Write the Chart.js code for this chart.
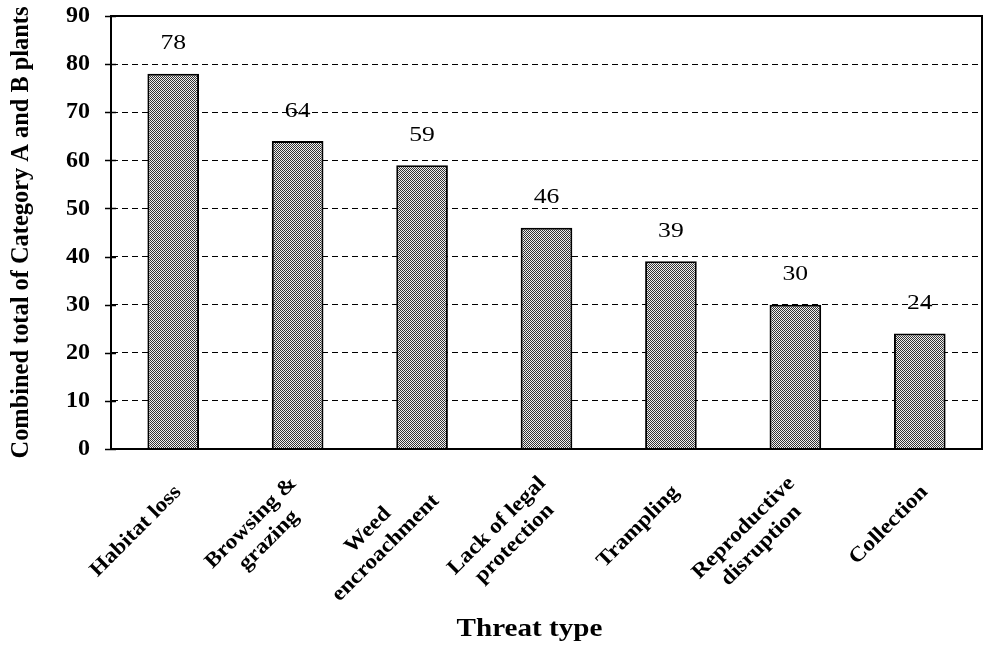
<!DOCTYPE html>
<html>
<head>
<meta charset="utf-8">
<script src="https://cdn.jsdelivr.net/npm/chart.js@4/dist/chart.umd.min.js"></script>
<style>
  html, body { margin: 0; padding: 0; background: #fff; }
  #wrap { width: 986px; height: 647px; }
</style>
</head>
<body>
<div id="wrap"><canvas id="c" width="986" height="647"></canvas></div>
<script>
// Threat categories (multi-line labels) and plant counts
const categories = [
  ["Habitat loss"],
  ["Browsing &", "grazing"],
  ["Weed", "encroachment"],
  ["Lack of legal", "protection"],
  ["Trampling"],
  ["Reproductive", "disruption"],
  ["Collection"]
];
const plantCounts = [78, 64, 59, 46, 39, 30, 24];
const yMin = 0;
const yMax = 90;
const yStep = 10;
const xTitle = "Threat type";
const yTitle = "Combined total of Category A and B plants";

const SERIF = "'Liberation Serif', 'Times New Roman', serif";

// stippled grey fill for the bars
function stipple() {
  const p = document.createElement('canvas');
  p.width = 2; p.height = 2;
  const g = p.getContext('2d');
  g.fillStyle = '#f0f0f0';
  g.fillRect(0, 0, 2, 2);
  g.fillStyle = '#333';
  g.fillRect(0, 0, 1, 1);
  g.fillRect(1, 1, 1, 1);
  return g.createPattern(p, 'repeat');
}

// draw text stretched horizontally around its anchor
function wideText(ctx, text, x, y, sx) {
  ctx.save();
  ctx.translate(x, y);
  ctx.scale(sx, 1);
  ctx.fillText(text, 0, 0);
  ctx.restore();
}

// frame, tick marks, rotated category labels, value labels and axis title
const decorations = {
  id: 'decorations',
  afterDraw(chart) {
    const ctx = chart.ctx;
    const area = chart.chartArea;
    const xs = chart.scales.x;
    const ys = chart.scales.y;

    // plot frame
    ctx.save();
    ctx.strokeStyle = '#000';
    ctx.lineWidth = 2;
    ctx.strokeRect(area.left, area.top, area.right - area.left, area.bottom - area.top);
    // tick marks crossing the left axis
    ctx.lineWidth = 1.5;
    ys.ticks.forEach(t => {
      const py = Math.round(ys.getPixelForValue(t.value)) + 0.5;
      ctx.beginPath();
      ctx.moveTo(area.left - 6, py);
      ctx.lineTo(area.left + 5, py);
      ctx.stroke();
    });
    ctx.restore();

    // value labels above bars
    const meta = chart.getDatasetMeta(0);
    ctx.save();
    ctx.fillStyle = '#000';
    ctx.font = "21px " + SERIF;
    ctx.textAlign = 'center';
    ctx.textBaseline = 'middle';
    meta.data.forEach((bar, i) => {
      wideText(ctx, String(chart.data.datasets[0].data[i]), bar.x, bar.y - 30, 1.22);
    });
    ctx.restore();

    // rotated category labels, lines centred on each other
    ctx.save();
    ctx.fillStyle = '#000';
    ctx.font = "bold 21px " + SERIF;
    const sx = 1.12;
    const lh = 25;
    chart.data.labels.forEach((lines, i) => {
      const px = xs.getPixelForValue(i);
      const widths = lines.map(l => ctx.measureText(l).width * sx);
      const maxW = Math.max(...widths);
      ctx.save();
      ctx.translate(px + 5, area.bottom + 40);
      ctx.rotate(-Math.PI / 4);
      ctx.textAlign = 'center';
      ctx.textBaseline = 'middle';
      lines.forEach((l, j) => {
        wideText(ctx, l, -maxW / 2, (j - (lines.length - 1) / 2) * lh, sx);
      });
      ctx.restore();
    });
    ctx.restore();

    // x axis title
    ctx.save();
    ctx.fillStyle = '#000';
    ctx.font = "bold 26px " + SERIF;
    ctx.textAlign = 'center';
    ctx.textBaseline = 'alphabetic';
    wideText(ctx, xTitle, (area.left + area.right) / 2 - 17, 636, 1.12);
    ctx.restore();
  }
};

new Chart(document.getElementById('c'), {
  type: 'bar',
  data: {
    labels: categories,
    datasets: [{
      data: plantCounts,
      backgroundColor: stipple(),
      borderColor: '#000',
      borderWidth: 2,
      borderSkipped: 'bottom',
      barPercentage: 0.415,
      categoryPercentage: 1.0
    }]
  },
  options: {
    responsive: false,
    animation: false,
    devicePixelRatio: 1,
    layout: { padding: { left: 0, right: 4, top: 16, bottom: 0 } },
    plugins: {
      legend: { display: false },
      tooltip: { enabled: false }
    },
    scales: {
      x: {
        grid: { display: false },
        border: { display: false },
        ticks: { display: false },
        afterFit(scale) { scale.height = 198; }
      },
      y: {
        min: yMin,
        max: yMax,
        ticks: {
          stepSize: yStep,
          color: '#000',
          padding: 0,
          font: { family: SERIF, size: 24, weight: 'bold' }
        },
        grid: {
          color: ctx => (ctx.tick && (ctx.tick.value === yMin || ctx.tick.value === yMax)) ? 'rgba(0,0,0,0)' : '#000',
          lineWidth: 1,
          drawTicks: true,
          tickLength: 21,
          tickColor: 'rgba(0,0,0,0)'
        },
        border: { display: true, color: '#000', width: 2, dash: [6, 4] },
        title: {
          display: true,
          text: yTitle,
          color: '#000',
          font: { family: SERIF, size: 24.4, weight: 'bold' },
          padding: { top: 7, bottom: 0 }
        },
        afterFit(scale) { scale.width = 111; }
      }
    }
  },
  plugins: [decorations]
});
</script>
</body>
</html>
